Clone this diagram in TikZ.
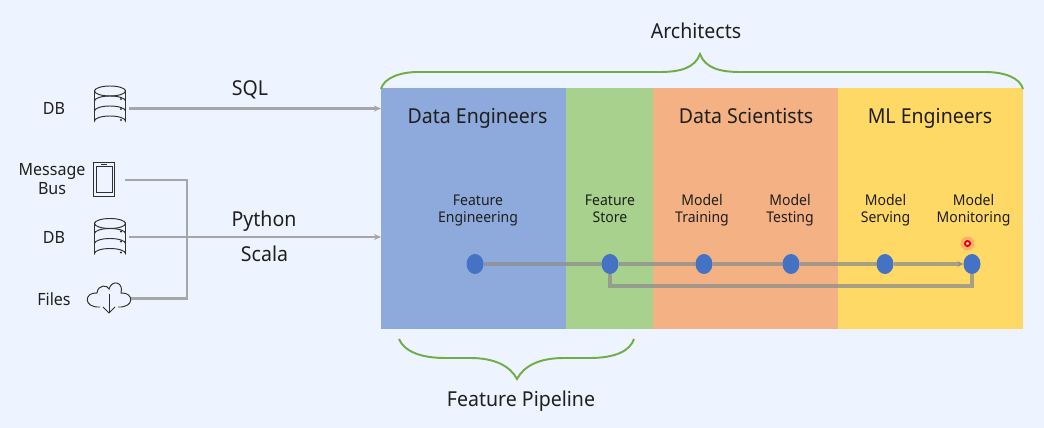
\documentclass[tikz,border=0pt]{standalone}
\usepackage{fontspec}
\setmainfont[FakeStretch=0.95]{Noto Sans}
\usetikzlibrary{arrows.meta,shapes.geometric}
\definecolor{pagebg}{HTML}{EEF4FF}
\definecolor{bandblue}{HTML}{8EA9DB}
\definecolor{bandgreen}{HTML}{A9D18E}
\definecolor{bandorange}{HTML}{F4B183}
\definecolor{bandyellow}{HTML}{FFD966}
\definecolor{dotblue}{HTML}{4472C4}
\definecolor{bracegreen}{HTML}{70AD47}
\definecolor{linegray}{HTML}{A6A6A6}
\definecolor{iconink}{HTML}{303030}
\tikzset{
  band/.style={anchor=north west,minimum height=241*0.02cm,inner sep=0,outer sep=0},
  stage/.style={anchor=base,align=center,font=\fontsize{8.4}{9.8}\selectfont,text=black!88},
  title/.style={anchor=base,font=\fontsize{11.7}{14}\selectfont,text=black!88},
  side/.style={anchor=base,align=center,font=\fontsize{9.6}{10.9}\selectfont,text=black!88},
  stop/.style={ellipse,fill=dotblue,minimum width=17*0.02cm,minimum height=20*0.02cm,inner sep=0,outer sep=0},
  feed/.style={draw=linegray,line width=1.3pt},
  track/.style={draw=linegray!85!black,line width=2pt,opacity=.75},
  brace/.style={draw=bracegreen,line width=1.1pt},
  icon/.style={draw=iconink,line width=.55pt},
  pics/dbicon/.style={code={
    \draw[icon] (-15.5,-15) -- (-15.5,15) arc (180:360:15.5 and 5) -- (15.5,-15) arc (0:180:15.5 and 5) -- cycle;
    \draw[icon] (-15.5,-15) arc (180:360:15.5 and 5);
    \draw[icon] (-15.5,-5) arc (180:360:15.5 and 5);
    \draw[icon] (-15.5,5) arc (180:360:15.5 and 5);
    \fill[iconink] (11,-7) circle (1.2);
    \fill[iconink] (11,3) circle (1.2);
    \fill[iconink] (11,14) circle (1.2);
  }},
  pics/busicon/.style={code={
    \draw[icon] (-10.5,-17) rectangle (10.5,17);
    \draw[icon] (-8,-13) rectangle (8,13);
    \draw[icon] (-3,-15) -- (3,-15);
  }},
  pics/cloudicon/.style={code={
    \draw[icon] (-9,9) .. controls (-26,10) and (-25,-6) .. (-12,-5)
      .. controls (-11,-14) and (-1,-13) .. (0,-9)
      .. controls (3,-19) and (15,-16) .. (12,-5)
      .. controls (25,-6) and (26,10) .. (9,9);
    \draw[icon] (0,-4) -- (0,15);
    \draw[icon] (-6,9) -- (0,15) -- (6,9);
  }}
}
\begin{document}
\begin{tikzpicture}[x=0.02cm,y=-0.02cm]
\useasboundingbox[fill=pagebg] (0,0) rectangle (1044,428);
% bands
\node[band,fill=bandblue,minimum width=185*0.02cm] (de) at (381,88) {};
\node[band,fill=bandgreen,minimum width=87*0.02cm] (fs) at (566,88) {};
\node[band,fill=bandorange,minimum width=185*0.02cm] (ds) at (653,88) {};
\node[band,fill=bandyellow,minimum width=185*0.02cm] (ml) at (838,88) {};
\node[title] (detitle) at (477.500,124) {Data Engineers};
\node[title] (dstitle) at (746,124) {Data Scientists};
\node[title] (mltitle) at (930,124) {ML Engineers};
% stages
\node[stage] (fe) at (478,223) {Feature\\Engineering};
\node[stage] (st) at (610,223) {Feature\\Store};
\node[stage] (tr) at (702,223) {Model\\Training};
\node[stage] (te) at (790,223) {Model\\Testing};
\node[stage] (sv) at (885.500,223) {Model\\Serving};
\node[stage] (mo) at (973.500,223) {Model\\Monitoring};
% track
\node[stop] (feat) at (475,264) {};
\node[stop] (stor) at (610,264) {};
\node[stop] (train) at (704,264) {};
\node[stop] (test) at (791,264) {};
\node[stop] (serv) at (885,264) {};
\node[stop] (moni) at (972,264) {};
\draw[track] (feat) -- (stor);
\draw[track] (stor) -- (train);
\draw[track] (train) -- (test);
\draw[track] (test) -- (serv);
\draw[track,-{Stealth[length=3.5pt,width=3.5pt]}] (serv) -- (moni);
\draw[track] (stor.south) -- ++(0,12) -| (moni.south);
% pointer
\fill[red!60!white,opacity=.35] (967.500,243.500) circle (7);
\node[circle,draw=red!90!black,line width=1.1pt,fill=white,minimum size=5*0.02cm,inner sep=0] (ptr) at (967.500,243.500) {};
% sources
\node[side] (dba) at (54,115) {DB};
\node[side] (bus) at (52,195) {Message\\Bus};
\node[side] (dbb) at (54,244) {DB};
\node[side] (fil) at (54,306) {Files};
\pic at (110,106) {dbicon};
\pic at (104,179.500) {busicon};
\pic at (110,238.500) {dbicon};
\pic at (109,298) {cloudicon};
\coordinate (dbaout) at (129,108.500);
\coordinate (busout) at (125,180);
\coordinate (dbbout) at (129,237);
\coordinate (filout) at (131,298.500);
\coordinate (turn) at (187,180);
\draw[feed] (busout) -- (turn) -- (turn |- filout) -- (filout);
\draw[feed,-{Stealth[length=4pt,width=3.5pt]}] (dbaout) -- (dbaout -| de.west);
\draw[feed,-{Stealth[length=4pt,width=3.5pt]}] (dbbout) -- (dbbout -| de.west);
\node[title] (sql) at (250,96) {SQL};
\node[title] (py) at (264,227) {Python};
\node[title] (sc) at (264.500,262) {Scala};
% braces
\coordinate (archl) at (381,89);
\coordinate (archtip) at (700,54);
\coordinate (archr) at (1023,89);
\coordinate (pipel) at (399,339);
\coordinate (pipetip) at (517,379);
\coordinate (piper) at (634,339);
\draw[brace] (archl) .. controls (384,78) and (400,72) .. (418,72) -- (660,72)
  .. controls (680,72) and (695,68) .. (archtip) .. controls (705,68) and (720,72) .. (740,72)
  -- (985,72) .. controls (1005,72) and (1020,78) .. (archr);
\draw[brace] (pipel) .. controls (404,351) and (420,358) .. (445,358) -- (470,358)
  .. controls (495,358) and (510,366) .. (pipetip) .. controls (524,366) and (539,358) .. (564,358)
  -- (590,358) .. controls (615,358) and (630,351) .. (piper);
\node[title] (archi) at (696,39) {Architects};
\node[title] (pipe) at (521,407) {Feature Pipeline};
\end{tikzpicture}
\end{document}
